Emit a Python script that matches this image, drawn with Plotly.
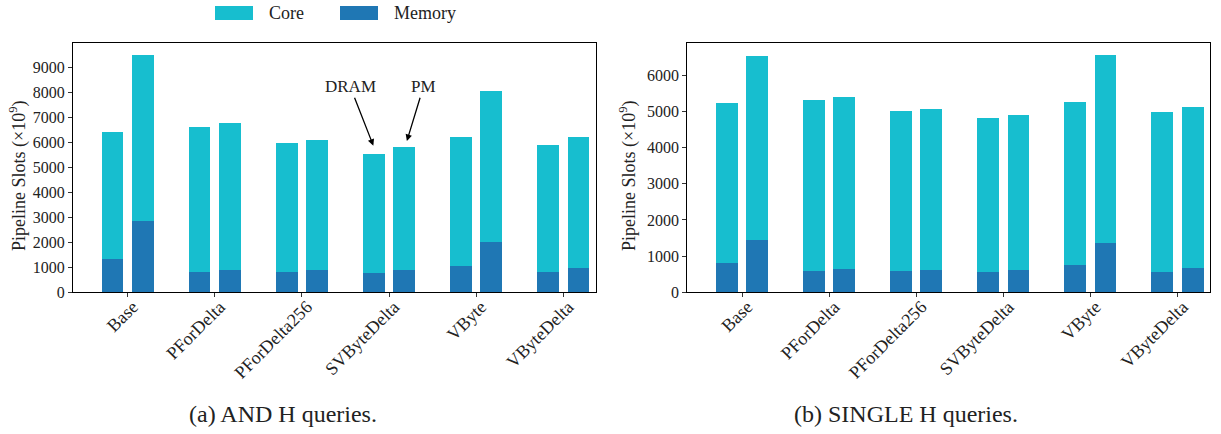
import plotly.graph_objects as go
import numpy as np

# Index codecs on the x axis
categories = ["Base", "PForDelta", "PForDelta256", "SVByteDelta", "VByte", "VByteDelta"]

# Pipeline slots (x10^9), AND H queries
and_dram_memory = [1330, 810, 810, 770, 1050, 810]
and_dram_core = [5090, 5810, 5170, 4770, 5170, 5090]
and_pm_memory = [2860, 890, 890, 890, 2010, 970]
and_pm_core = [6650, 5890, 5210, 4930, 6050, 5250]

# Pipeline slots (x10^9), SINGLE H queries
single_dram_memory = [810, 590, 590, 560, 750, 560]
single_dram_core = [4420, 4720, 4410, 4250, 4500, 4420]
single_pm_memory = [1440, 640, 620, 620, 1360, 670]
single_pm_core = [5080, 4750, 4440, 4280, 5190, 4450]

CORE = "#17becf"
MEMORY = "#1f77b4"
FONT = "Liberation Serif"
W, H = 1221, 434

idx = np.arange(len(categories))
x_dram = idx - 0.175
x_pm = idx + 0.175
bar_w = 0.25

fig = go.Figure()


def add_panel(xa, ya, dram_mem, dram_core, pm_mem, pm_core):
    for xs, mem, core in ((x_dram, dram_mem, dram_core), (x_pm, pm_mem, pm_core)):
        fig.add_trace(go.Bar(x=xs, y=mem, width=bar_w, marker_color=MEMORY,
                             marker_line_width=0, name="Memory", showlegend=False,
                             xaxis=xa, yaxis=ya))
        fig.add_trace(go.Bar(x=xs, y=core, width=bar_w, marker_color=CORE,
                             marker_line_width=0, name="Core", showlegend=False,
                             xaxis=xa, yaxis=ya))


add_panel("x", "y", and_dram_memory, and_dram_core, and_pm_memory, and_pm_core)
add_panel("x2", "y2", single_dram_memory, single_dram_core, single_pm_memory, single_pm_core)

ydom = [1 - 292.3 / H, 1 - 43.3 / H]

common_x = dict(
    tickmode="array", tickvals=list(idx), ticktext=categories, tickangle=-45,
    ticklabelshift=5, ticklabelstandoff=-8,
    ticks="outside", ticklen=4, tickcolor="#333", showline=True, linecolor="black",
    linewidth=1, mirror=True, showgrid=False, zeroline=False, automargin=False,
    tickfont=dict(family=FONT, size=18, color="#222"),
)
common_y = dict(
    dtick=1000, tickformat="d", ticks="outside", ticklen=4, tickcolor="#333",
    showline=True, linecolor="black", linewidth=1, mirror=True, showgrid=False,
    zeroline=False, automargin=False,
    tickfont=dict(family=FONT, size=16, color="#222"), domain=ydom,
)

fig.update_layout(
    width=W, height=H, margin=dict(l=0, r=0, t=0, b=0),
    paper_bgcolor="white", plot_bgcolor="white", barmode="stack", bargap=0,
    showlegend=False,
    xaxis=dict(common_x, domain=[73 / W, 596 / W], range=[-0.628, 5.376], anchor="y"),
    yaxis=dict(common_y, range=[0, 9976], anchor="x"),
    xaxis2=dict(common_x, domain=[687.3 / W, 1210 / W], range=[-0.631, 5.371], anchor="y2"),
    yaxis2=dict(common_y, range=[0, 6880], anchor="x2"),
)

# Y axis titles
for xc in (18, 628):
    fig.add_annotation(
        x=xc / W, y=1 - 176 / H, xref="paper", yref="paper", showarrow=False,
        text="Pipeline Slots (×10<sup>9</sup>)", textangle=-90,
        font=dict(family=FONT, size=18, color="#222"), xanchor="center", yanchor="middle",
    )

# DRAM / PM callouts on the SVByteDelta pair
fig.add_annotation(x=2.82, y=5873, ax=2.555, ay=8237, xref="x", yref="y",
                   axref="x", ayref="y", text="DRAM", showarrow=True,
                   arrowhead=2, arrowsize=1, arrowwidth=1.3, arrowcolor="black",
                   font=dict(family=FONT, size=17, color="#222"))
fig.add_annotation(x=3.205, y=6062, ax=3.395, ay=8237, xref="x", yref="y",
                   axref="x", ayref="y", text="PM", showarrow=True,
                   arrowhead=2, arrowsize=1, arrowwidth=1.3, arrowcolor="black",
                   font=dict(family=FONT, size=17, color="#222"))

# Legend above the left panel
for (x0, x1, tx, label, col) in ((215, 253, 267, "Core", CORE), (340, 378, 392, "Memory", MEMORY)):
    fig.add_shape(type="rect", xref="paper", yref="paper", x0=x0 / W, x1=x1 / W,
                  y0=1 - 20 / H, y1=1 - 6 / H, fillcolor=col, line_width=0)
    fig.add_annotation(x=tx / W, y=1 - 13 / H, xref="paper", yref="paper", text=label,
                       showarrow=False, xanchor="left", yanchor="middle",
                       font=dict(family=FONT, size=18, color="#222"))

# Sub-captions
for xc, cap in ((283, "(a) AND H queries."), (906, "(b) SINGLE H queries.")):
    fig.add_annotation(x=xc / W, y=1 - 414 / H, xref="paper", yref="paper", text=cap,
                       showarrow=False, xanchor="center", yanchor="middle",
                       font=dict(family=FONT, size=24, color="#222"))

fig.write_html("out.html")
